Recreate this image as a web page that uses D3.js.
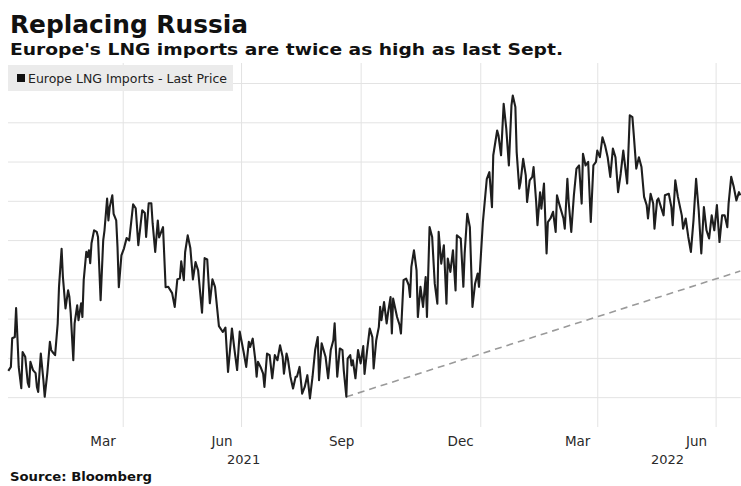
<!DOCTYPE html>
<html>
<head>
<meta charset="utf-8">
<script src="https://cdn.jsdelivr.net/npm/d3@7"></script>
<style>
  body { margin: 0; background: #ffffff; }
  text { font-family: "DejaVu Sans", Verdana, sans-serif; }
</style>
</head>
<body>
<svg id="chart" width="741" height="486"></svg>
<script>
// Europe LNG imports, daily readings (arbitrary units), first reading 3 Jan 2021
const seriesName = "Europe LNG Imports - Last Price";
const firstDay = new Date(2021, 0, 3);

const dayOffsets = [
  0, 2, 3, 5, 6, 7, 8, 10, 11, 13,
  15, 16, 17, 19, 21, 22, 23, 25, 27, 28,
  30, 32, 33, 34, 36, 38, 39, 41, 42, 44,
  46, 47, 48, 50, 51, 53, 54, 56, 57, 58,
  60, 61, 62, 63, 64, 66, 68, 69, 71, 73,
  74, 76, 77, 78, 80, 81, 83, 84, 85, 87,
  89, 91, 93, 96, 98, 100, 103, 105, 106, 108,
  110, 111, 113, 115, 116, 119, 121, 123, 126, 128,
  130, 132, 133, 135, 136, 138, 140, 142, 144, 146,
  149, 151, 153, 155, 157, 159, 162, 165, 167, 169,
  172, 174, 176, 178, 181, 183, 185, 186, 188, 190,
  191, 192, 194, 196, 197, 199, 201, 203, 205, 207,
  209, 211, 212, 214, 215, 217, 219, 221, 222, 224,
  226, 228, 230, 232, 234, 236, 238, 239, 241, 244,
  246, 248, 250, 251, 253, 255, 257, 258, 260, 261,
  263, 264, 265, 267, 269, 271, 273, 274, 276, 278,
  280, 281, 283, 285, 286, 287, 289, 291, 292, 294,
  295, 296, 299, 301, 302, 304, 306, 308, 309, 310,
  312, 314, 315, 317, 319, 321, 322, 324, 326, 328,
  330, 331, 333, 335, 337, 338, 340, 342, 344, 345,
  348, 350, 351, 353, 355, 357, 359, 361, 362, 365,
  368, 370, 372, 373, 376, 377, 379, 381, 383, 385,
  387, 388, 390, 391, 393, 394, 396, 398, 399, 401,
  403, 404, 406, 407, 409, 410, 412, 414, 415, 417,
  419, 421, 422, 424, 427, 428, 430, 431, 433, 435,
  437, 439, 441, 442, 444, 446, 448, 450, 452, 453,
  455, 457, 459, 461, 463, 465, 467, 469, 471, 473,
  476, 478, 480, 481, 483, 485, 487, 489, 491, 492,
  494, 496, 497, 499, 500, 502, 504, 505, 508, 510,
  511, 513, 515, 518, 519, 521, 523, 525, 527, 529,
  531, 533, 535, 537, 539, 541, 543, 545, 547, 549,
  551, 553, 554, 556, 558, 560, 562, 563
];

const lngImports = [
  56.7, 57.7, 65.0, 65.3, 72.7, 65.3, 57.7, 52.3, 61.5, 60.3,
  53.6, 52.6, 59.0, 56.9, 56.1, 52.6, 51.3, 61.1, 54.3, 50.1,
  56.1, 64.1, 62.0, 61.5, 60.7, 68.8, 78.1, 87.8, 80.6, 72.6,
  77.2, 75.5, 71.4, 59.4, 68.8, 73.4, 69.6, 73.9, 70.4, 79.8,
  87.0, 85.7, 87.4, 84.1, 89.2, 92.5, 92.1, 90.8, 74.7, 89.9,
  92.5, 100.6, 95.0, 98.4, 101.4, 96.7, 95.0, 88.2, 78.0, 86.1,
  87.9, 90.5, 89.9, 99.1, 98.1, 88.7, 97.6, 96.9, 90.8, 99.4,
  99.4, 94.3, 87.0, 95.0, 90.7, 93.3, 78.0, 78.1, 76.5, 73.0,
  80.0, 80.3, 84.6, 79.8, 86.9, 91.2, 88.0, 80.0, 84.4, 82.3,
  71.5, 85.4, 85.1, 73.9, 80.0, 78.1, 68.1, 66.6, 67.7, 56.4,
  67.5, 62.0, 56.9, 66.7, 61.5, 57.7, 64.1, 62.8, 64.9, 59.4,
  55.2, 59.0, 57.7, 56.0, 52.6, 61.1, 60.7, 54.8, 60.7, 59.4,
  63.2, 60.3, 56.0, 61.1, 59.8, 55.2, 52.2, 55.2, 55.2, 57.7,
  50.9, 52.6, 55.6, 49.7, 55.2, 62.0, 65.3, 54.3, 63.7, 60.3,
  54.8, 62.0, 64.5, 68.8, 55.2, 62.4, 62.0, 56.9, 50.1, 59.8,
  60.7, 58.1, 59.4, 54.8, 62.0, 58.6, 63.0, 55.9, 62.0, 67.5,
  65.3, 57.3, 64.5, 67.9, 73.0, 69.6, 74.2, 68.8, 71.3, 75.5,
  66.2, 75.1, 70.4, 68.3, 66.2, 79.8, 80.2, 78.5, 75.5, 83.2,
  87.4, 82.3, 70.4, 78.1, 73.0, 80.6, 70.4, 93.3, 90.8, 78.9,
  73.8, 92.1, 84.0, 88.7, 73.8, 85.3, 81.9, 87.4, 77.2, 91.2,
  90.4, 78.1, 86.6, 96.7, 93.3, 73.0, 78.9, 81.5, 78.1, 94.5,
  105.5, 107.3, 98.4, 111.6, 117.9, 116.7, 111.6, 124.7, 118.4, 109.0,
  124.3, 126.8, 123.9, 112.4, 103.1, 104.8, 110.7, 106.5, 99.7, 105.2,
  106.1, 108.6, 99.7, 93.8, 102.2, 98.0, 104.4, 86.6, 94.6, 95.5,
  97.2, 92.1, 101.4, 98.9, 95.5, 92.9, 105.6, 99.7, 92.1, 101.4,
  108.2, 109.0, 99.3, 112.0, 109.0, 109.9, 94.6, 109.0, 109.9, 112.8,
  111.1, 116.2, 114.1, 111.1, 106.1, 113.3, 111.1, 102.2, 106.9, 112.8,
  104.4, 121.8, 121.3, 117.1, 108.2, 111.1, 108.6, 101.0, 98.9, 95.5,
  101.8, 99.3, 92.9, 100.1, 100.6, 98.4, 96.3, 101.4, 101.8, 98.4,
  93.8, 105.2, 101.0, 96.3, 92.9, 95.5, 90.8, 87.0, 95.0, 105.6,
  97.6, 86.6, 98.4, 92.5, 90.4, 96.3, 92.5, 98.9, 89.5, 96.3,
  96.3, 93.3, 99.3, 106.1, 103.5, 100.1, 102.2, 101.4
];

// Dashed trend from last September's low to the latest reading
const trendDays = [260, 563];
const trendValues = [50.1, 82.1];

const gridValues = [50, 60, 70, 80, 90, 100, 110, 120, 130];
const monthLabels = ["Mar", "Jun", "Sep", "Dec", "Mar", "Jun"];
const monthLabelMonths = ["2021-03", "2021-06", "2021-09", "2021-12", "2022-03", "2022-06"];
const yearLabels = ["2021", "2022"];
const yearLabelDates = ["2021-07-03", "2022-05-25"];

const svg = d3.select("#chart");
const W = 741, H = 486;
const plot = { left: 8.3, right: 740.3, top: 63, bottom: 427 };

const toDate = d => d3.timeDay.offset(firstDay, d);
const series = d3.zip(dayOffsets, lngImports).map(([d, v]) => ({ date: toDate(d), value: v }));
const trend = d3.zip(trendDays, trendValues).map(([d, v]) => ({ date: toDate(d), value: v }));

const x = d3.scaleTime()
  .domain([firstDay, toDate(dayOffsets[dayOffsets.length - 1])])
  .range([plot.left, plot.right]);
const y = d3.scaleLinear()
  .domain([42.4, 135.1])
  .range([plot.bottom, plot.top]);

svg.append("rect").attr("width", W).attr("height", H).attr("fill", "#ffffff");

// horizontal grid
const yGrid = svg.append("g")
  .attr("transform", `translate(${plot.left - 0.3},0)`)
  .call(d3.axisLeft(y).tickValues(gridValues).tickSize(-(W - plot.left)).tickFormat(""));
yGrid.select(".domain").remove();
yGrid.selectAll("line").attr("stroke", "#e3e3e3").attr("stroke-width", 1);

// vertical grid at quarter boundaries
const quarterTicks = x.ticks(d3.timeMonth.every(3));
const xGrid = svg.append("g")
  .attr("transform", `translate(0,${plot.bottom})`)
  .call(d3.axisBottom(x).tickValues(quarterTicks).tickSize(-(plot.bottom - plot.top)).tickFormat(""));
xGrid.select(".domain").remove();
xGrid.selectAll("line").attr("stroke", "#e3e3e3").attr("stroke-width", 1);

// month labels centred in their month
const parseMonth = d3.timeParse("%Y-%m");
const monthMid = monthLabelMonths.map(m => {
  const a = parseMonth(m), b = d3.timeMonth.offset(a, 1);
  return new Date((+a + +b) / 2);
});
const xLab = svg.append("g")
  .attr("transform", `translate(0,${plot.bottom})`)
  .call(d3.axisBottom(x).tickValues(monthMid).tickSize(0).tickPadding(0)
    .tickFormat((d, i) => monthLabels[i]));
xLab.select(".domain").remove();
xLab.selectAll("text")
  .attr("y", 19)
  .attr("dy", null)
  .attr("fill", "#2a2a2a")
  .style("font-size", "13.5px")
  .style("font-family", "'DejaVu Sans', sans-serif");

const parseDay = d3.timeParse("%Y-%m-%d");
svg.append("g").selectAll("text")
  .data(yearLabels)
  .join("text")
  .attr("x", (d, i) => x(parseDay(yearLabelDates[i])))
  .attr("y", 464)
  .attr("text-anchor", "middle")
  .attr("fill", "#2a2a2a")
  .style("font-size", "13px")
  .text(d => d);

// trend line
svg.append("path")
  .datum(trend)
  .attr("fill", "none")
  .attr("stroke", "#9a9a9a")
  .attr("stroke-width", 1.6)
  .attr("stroke-dasharray", "7,5")
  .attr("d", d3.line().x(d => x(d.date)).y(d => y(d.value)));

// series line
svg.append("path")
  .datum(series)
  .attr("fill", "none")
  .attr("stroke", "#1e1e1e")
  .attr("stroke-width", 2.1)
  .attr("stroke-linejoin", "round")
  .attr("d", d3.line().x(d => x(d.date)).y(d => y(d.value)));

// legend
const legend = svg.append("g");
legend.append("rect").attr("x", 8).attr("y", 65).attr("width", 225).attr("height", 26).attr("fill", "#ebebeb");
legend.append("rect").attr("x", 17).attr("y", 74).attr("width", 8).attr("height", 8).attr("fill", "#111111");
legend.append("text").attr("x", 28).attr("y", 83)
  .attr("fill", "#222222").style("font-size", "11.5px")
  .attr("textLength", 199).attr("lengthAdjust", "spacingAndGlyphs")
  .text(seriesName);

// headings
svg.append("text").attr("x", 10).attr("y", 33)
  .attr("fill", "#111111").style("font-size", "24px").style("font-weight", "bold")
  .attr("textLength", 238).attr("lengthAdjust", "spacingAndGlyphs")
  .text("Replacing Russia");
svg.append("text").attr("x", 10).attr("y", 55)
  .attr("fill", "#111111").style("font-size", "16px").style("font-weight", "bold")
  .attr("textLength", 553).attr("lengthAdjust", "spacingAndGlyphs")
  .text("Europe's LNG imports are twice as high as last Sept.");
svg.append("text").attr("x", 10).attr("y", 481)
  .attr("fill", "#111111").style("font-size", "12px").style("font-weight", "bold")
  .attr("textLength", 142).attr("lengthAdjust", "spacingAndGlyphs")
  .text("Source: Bloomberg");
</script>
</body>
</html>
